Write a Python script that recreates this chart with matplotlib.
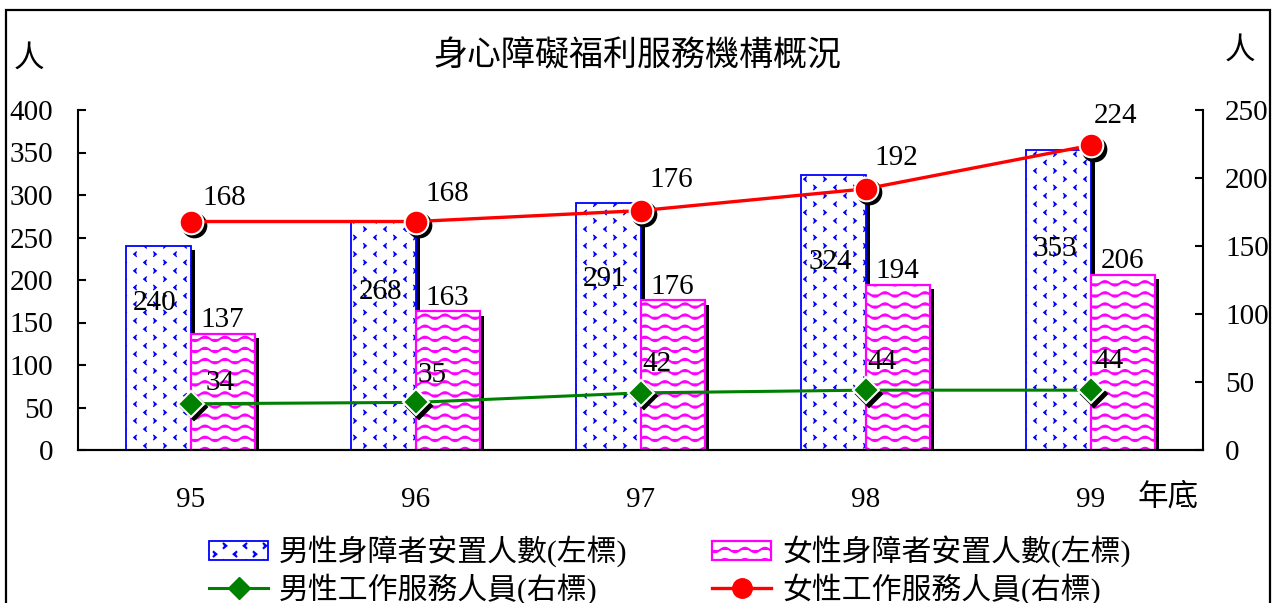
import warnings

import numpy as np
import matplotlib
matplotlib.use("Agg")
import matplotlib.pyplot as plt
import matplotlib.patheffects as pe
from matplotlib import hatch as mhatch
from matplotlib.lines import Line2D
from matplotlib.patches import Patch, Rectangle
from matplotlib.path import Path
from matplotlib.transforms import offset_copy

warnings.filterwarnings("ignore", message=".*hatch must consist.*")

years = ["95", "96", "97", "98", "99"]
male_placed = [240, 268, 291, 324, 353]     # 男性身障者安置人數 (left axis)
female_placed = [137, 163, 176, 194, 206]   # 女性身障者安置人數 (left axis)
male_staff = [34, 35, 42, 44, 44]           # 男性工作服務人員 (right axis)
female_staff = [168, 168, 176, 192, 224]    # 女性工作服務人員 (right axis)

TITLE = "身心障礙福利服務機構概況"
LEG_MALE_BAR = "男性身障者安置人數(左標)"
LEG_FEMALE_BAR = "女性身障者安置人數(左標)"
LEG_MALE_LINE = "男性工作服務人員(右標)"
LEG_FEMALE_LINE = "女性工作服務人員(右標)"

# layout tweaks (label placement as in the original)
male_label_y = [173, 186, 201, 221, 236]
green_offsets = [(21, 15), (12, 20), (12, 21), (12, 20), (13, 21)]
red_offsets = [(24, 17), (23, 20), (22, 22), (22, 22), (18, 21)]

BLUE = "#0000ff"
MAGENTA = "#ff00ff"
GREEN = "#008000"
RED = "#ff0000"
NUM_FS = 21

plt.rcParams.update({
    "font.family": ["Liberation Serif", "Noto Sans CJK TC"],
    "font.size": NUM_FS,
    "axes.linewidth": 1.5,
})


# custom fill textures resembling the original office-chart patterns
class WaveHatch(mhatch.HatchPatternBase):
    def __init__(self, hatch, density):
        self.rows = 9 if "~" in hatch else 0
        self.npts = 5 * 16 + 1
        self.num_lines = self.rows
        self.num_vertices = self.rows * self.npts

    def set_vertices_and_codes(self, vertices, codes):
        t = np.linspace(0, 1, self.npts)
        for r in range(self.rows):
            s = slice(r * self.npts, (r + 1) * self.npts)
            vertices[s, 0] = t
            vertices[s, 1] = (r + 0.5) / self.rows + 0.022 * np.sin(2 * np.pi * 5 * t)
            codes[s] = Path.LINETO
            codes[r * self.npts] = Path.MOVETO


class ChevronHatch(mhatch.HatchPatternBase):
    def __init__(self, hatch, density):
        self.nx = 10 if "<" in hatch else 0
        self.ny = 12 if "<" in hatch else 0
        self.num_lines = self.nx * self.ny // 2
        self.num_vertices = self.num_lines * 3

    def set_vertices_and_codes(self, vertices, codes):
        k = 0
        w, h = 0.013, 0.022
        for j in range(self.ny):
            for i in range(self.nx):
                if (i + j) % 2:
                    continue
                cx = (i + 0.5) / self.nx
                cy = (j + 0.5) / self.ny
                d = 1 if (i // 2 + j) % 2 == 0 else -1
                vertices[k:k + 3] = [(cx + d * w, cy + h), (cx - d * w, cy),
                                     (cx + d * w, cy - h)]
                codes[k:k + 3] = [Path.MOVETO, Path.LINETO, Path.LINETO]
                k += 3


mhatch._hatch_types.extend([WaveHatch, ChevronHatch])

fig = plt.figure(figsize=(12.74, 6.03), dpi=100)
ax = fig.add_axes([78 / 1274, 1 - 450 / 603, 1125 / 1274, 340 / 603])
ax2 = ax.twinx()

x = np.arange(len(years))
bw = 0.285
shadow = [pe.SimplePatchShadow(offset=(3, -3), shadow_rgbFace="k", alpha=1, hatch=None),
          pe.Normal()]

plt.rcParams["hatch.linewidth"] = 0.9
bars_m = ax.bar(x - bw / 2, male_placed, bw, facecolor="white", edgecolor=BLUE,
                linewidth=1.3, hatch="<", path_effects=shadow)
leg_m = Patch(facecolor="white", edgecolor=BLUE, linewidth=1.3, hatch="<")
plt.rcParams["hatch.linewidth"] = 1.5
bars_f = ax.bar(x + bw / 2, female_placed, bw, facecolor="white", edgecolor=MAGENTA,
                linewidth=1.6, hatch="~", path_effects=shadow)
leg_f = Patch(facecolor="white", edgecolor=MAGENTA, linewidth=1.6, hatch="~")

for xi, v, ly in zip(x, male_placed, male_label_y):
    ax.text(xi - bw / 2 - 0.015, ly, str(v), ha="center", va="center", fontsize=NUM_FS)
for xi, v in zip(x, female_placed):
    ax.annotate(str(v), (xi + bw / 2, v), xytext=(0, 10), textcoords="offset points",
                ha="center", va="center", fontsize=NUM_FS)

ax.set_xlim(-0.5, len(years) - 0.5)
ax.set_ylim(0, 400)
ax.set_yticks(range(0, 401, 50))
ax2.set_ylim(0, 250)
ax2.set_yticks(range(0, 251, 50))

# marker shadows
sh = offset_copy(ax2.transData, fig=fig, x=2.5, y=-2.5, units="points")
ax2.plot(x, male_staff, ls="none", marker="D", ms=13, mfc="k", mec="k", mew=1.5,
         transform=sh, zorder=2)
ax2.plot(x, female_staff, ls="none", marker="o", ms=17, mfc="k", mec="k", mew=1.5,
         transform=sh, zorder=2)
ax2.plot(x, male_staff, color=GREEN, lw=2.2, marker="D", ms=13, mfc=GREEN, mec="white",
         mew=1.5, zorder=3)
ax2.plot(x, female_staff, color=RED, lw=2.4, marker="o", ms=17, mfc=RED, mec="white",
         mew=1.5, zorder=3)

for xi, v, off in zip(x, male_staff, green_offsets):
    ax2.annotate(str(v), (xi, v), xytext=off, textcoords="offset points",
                 ha="center", va="center", fontsize=NUM_FS, zorder=4)
for xi, v, off in zip(x, female_staff, red_offsets):
    ax2.annotate(str(v), (xi, v), xytext=off, textcoords="offset points",
                 ha="center", va="center", fontsize=NUM_FS, zorder=4)

for a in (ax, ax2):
    a.spines["top"].set_visible(False)
ax.spines["right"].set_visible(False)
ax2.spines["left"].set_visible(False)
ax2.spines["right"].set_linewidth(1.5)

ax.tick_params(axis="y", direction="in", length=6, width=1.5, pad=18, labelsize=NUM_FS)
ax2.tick_params(axis="y", direction="in", length=6, width=1.5, pad=16, labelsize=NUM_FS)
ax.set_xticks(x)
ax.set_xticklabels(years)
ax.tick_params(axis="x", length=0, pad=26.5, labelsize=NUM_FS)

fig.text(637 / 1274, 1 - 56 / 603, TITLE, ha="center", va="center", fontsize=24.5)
fig.text(29 / 1274, 1 - 59 / 603, "人", ha="center", va="center", fontsize=22)
fig.text(1240 / 1274, 1 - 51 / 603, "人", ha="center", va="center", fontsize=22)
fig.text(1168 / 1274, 1 - 498 / 603, "年底", ha="center", va="center", fontsize=22)

handles = [
    leg_m,
    Line2D([], [], color=GREEN, lw=2.2, marker="D", ms=11, mfc=GREEN, mec=GREEN),
    leg_f,
    Line2D([], [], color=RED, lw=2.4, marker="o", ms=14, mfc=RED, mec=RED),
]
labels = [LEG_MALE_BAR, LEG_MALE_LINE, LEG_FEMALE_BAR, LEG_FEMALE_LINE]
fig.legend(handles, labels, ncol=2, loc="center", bbox_to_anchor=(670 / 1274, 1 - 570 / 603),
           frameon=False, fontsize=21.5, handlelength=1.97, handleheight=0.62,
           handletextpad=0.37, columnspacing=2.84, labelspacing=0.2, borderpad=0,
           borderaxespad=0, numpoints=1)

# outer frame, open at the bottom like the cropped original
fig.patches.append(Rectangle((6 / 1274, -0.2), 1264 / 1274, 1.2 - 10 / 603,
                             transform=fig.transFigure, fill=False, edgecolor="k",
                             linewidth=1.6, clip_on=False))

fig.savefig("out.png", dpi=100)
